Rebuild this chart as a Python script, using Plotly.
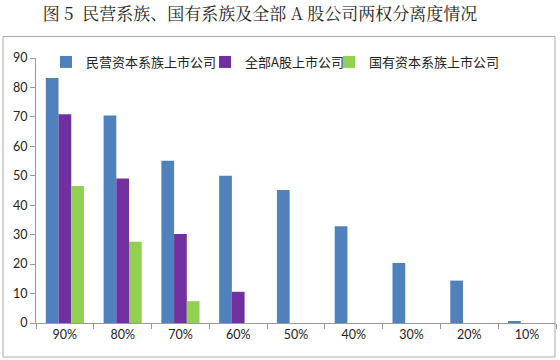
import plotly.graph_objects as go

categories = ["90%", "80%", "70%", "60%", "50%", "40%", "30%", "20%", "10%"]
private_vals = [83.2, 70.5, 55.1, 50.0, 45.2, 32.9, 20.4, 14.4, 0.5]
all_a_vals = [70.9, 49.1, 30.2, 10.6, None, None, None, None, None]
state_vals = [46.5, 27.6, 7.4, None, None, None, None, None, None]
series_names = ["民营资本系族上市公司", "全部A股上市公司", "国有资本系族上市公司"]
colors = ["#4F81BD", "#7030A0", "#92D050"]
y_ticks = [0, 10, 20, 30, 40, 50, 60, 70, 80, 90]
title_text = "图 5  民营系族、国有系族及全部 A 股公司两权分离度情况"

W, H = 560, 360
ml, mr, mt, mb = 36, 4, 58, 37
pw, ph = W - ml - mr, H - mt - mb

def px_x(x):
    return (x - ml) / pw

def px_y(y):
    return (H - mb - y) / ph

legend_ids = ["legend", "legend2", "legend3"]
text_starts = [86, 245, 369]

fig = go.Figure()
for name, vals, c, lg in zip(series_names, [private_vals, all_a_vals, state_vals], colors, legend_ids):
    fig.add_trace(go.Bar(x=categories, y=vals, name=name, legend=lg, showlegend=True,
                         marker=dict(color=c, line=dict(width=0))))

leg_common = dict(orientation="h", yanchor="middle", y=px_y(62), xanchor="left",
                  font=dict(family="'Noto Sans CJK SC', sans-serif", size=13, color="#222"),
                  bgcolor="rgba(0,0,0,0)", itemwidth=30, visible=True)

legend_layout = {}
for lg, ts in zip(legend_ids, text_starts):
    d = dict(leg_common)
    d["x"] = px_x(ts - 40)
    legend_layout[lg] = d

fig.update_layout(
    width=W, height=H, showlegend=True,
    margin=dict(l=ml, r=mr, t=mt, b=mb, autoexpand=False),
    paper_bgcolor="white", plot_bgcolor="white",
    barmode="group", bargap=0.34, bargroupgap=0,
    font=dict(family="Lato, 'Noto Sans CJK SC', sans-serif", size=12, color="#222"),
    title=dict(text=title_text, x=260 / W, xanchor="center", y=1 - 14 / H, yanchor="middle",
               font=dict(family="'Noto Serif CJK SC', 'Noto Sans CJK SC', serif", size=17, color="#222")),
    xaxis=dict(showgrid=False, showline=True, linecolor="#999", linewidth=1,
               ticks="outside", ticklen=5, tickcolor="#999", tickson="boundaries",
               tickfont=dict(size=12.5, family="Lato, sans-serif", color="#222")),
    yaxis=dict(range=[0, 90], tickvals=y_ticks, showgrid=False, showline=True, linecolor="#999",
               linewidth=1, ticks="outside", ticklen=5, tickcolor="#999", zeroline=False,
               tickfont=dict(size=12.5, family="Lato, sans-serif", color="#222")),
    shapes=[dict(type="rect", xref="paper", yref="paper",
                 x0=px_x(3), x1=px_x(555), y0=px_y(357), y1=px_y(36.5),
                 line=dict(color="#aaa", width=1), fillcolor="rgba(0,0,0,0)", layer="below")],
    **legend_layout,
)

fig.write_html("out.html", config={"displayModeBar": False},
               post_script="document.body.style.margin='0';document.body.style.padding='0';")
